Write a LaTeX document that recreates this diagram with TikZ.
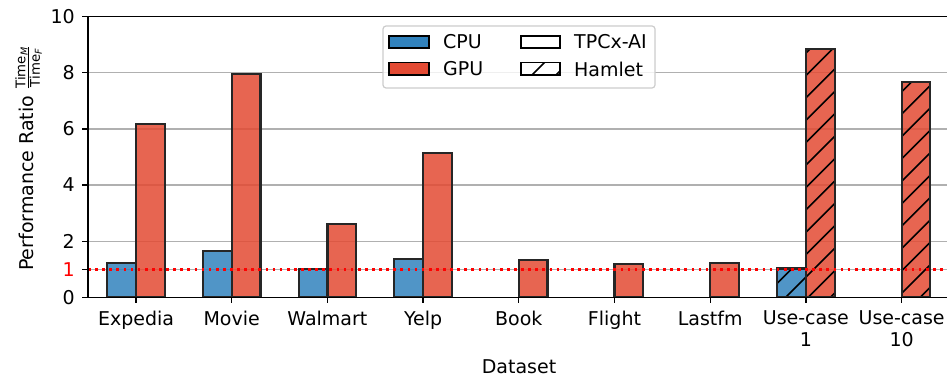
\documentclass[tikz,border=0pt]{standalone}
\usepackage{fontspec}
\setmainfont{DejaVu Sans}
\usepackage{amsmath}
\definecolor{cpublue}{HTML}{3182BD}
\definecolor{gpured}{HTML}{E34A33}
\definecolor{edgegray}{HTML}{262626}
\definecolor{gridgray}{HTML}{B0B0B0}
\definecolor{framegray}{HTML}{CCCCCC}

% diagonal "/" hatch clipped to a box given in pixel coordinates
\newcommand\hatchfill[4]{%
  \begin{scope}
    \clip (#1,#2) rectangle (#3,#4);
    \foreach \k in {20,...,60}
      \draw[hatchline] ({7.8+22.4*\k-400},400) -- ({7.8+22.4*\k},0);
  \end{scope}}

\begin{document}
\begin{tikzpicture}[x=1pt,y=-1pt,
  font=\fontsize{19}{22}\selectfont,
  baredge/.style={draw=edgegray,line width=2.2pt},
  cpufill/.style={fill=cpublue,fill opacity=0.85},
  gpufill/.style={fill=gpured,fill opacity=0.85},
  hatchline/.style={draw=black,line width=1.6pt},
  gridline/.style={draw=gridgray,line width=1.3pt},
  spine/.style={draw=black,line width=1.5pt},
  tickmark/.style={draw=black,line width=1.3pt},
  ticklab/.style={inner sep=0pt,text=black},
  refline/.style={draw=red,line width=2.7pt,dash pattern=on 2.7pt off 4.4pt},
  legframe/.style={draw=framegray,line width=1.2pt,fill=white,fill opacity=0.8,rounded corners=3pt},
  legpatch/.style={draw=black,line width=1.4pt}]
\useasboundingbox (0,0) rectangle (947,377);

% horizontal grid lines at 1, 2, 4, 6, 8
\foreach \v in {1,2,4,6,8}
  \draw[gridline] (88,{297.3-28.06*\v}) -- (947,{297.3-28.06*\v});

% bars in data coordinates: x = category index, y = ratio
\begin{scope}[shift={(136,297.3)},x=95.7pt,y=28.06pt]
  \foreach \i/\c in {0/1.23,1/1.66,2/1.02,3/1.36,7/1.03}
    \path[cpufill] (\i-0.3,0) rectangle (\i,\c);
  \foreach \i/\g in {0/6.18,1/7.96,2/2.61,3/5.14,4/1.33,5/1.19,6/1.22,7/8.85,8/7.66}
    \path[gpufill] (\i,0) rectangle (\i+0.3,\g);
\end{scope}

% hatching on the Hamlet bars
\hatchfill{777.2}{268.4}{805.9}{297.3}
\hatchfill{805.9}{49.0}{834.6}{297.3}
\hatchfill{901.6}{82.4}{930.3}{297.3}

% bar outlines
\begin{scope}[shift={(136,297.3)},x=95.7pt,y=28.06pt]
  \foreach \i/\c in {0/1.23,1/1.66,2/1.02,3/1.36,7/1.03}
    \draw[baredge] (\i-0.3,0) rectangle (\i,\c);
  \foreach \i/\g in {0/6.18,1/7.96,2/2.61,3/5.14,4/1.33,5/1.19,6/1.22,7/8.85,8/7.66}
    \draw[baredge] (\i,0) rectangle (\i+0.3,\g);
\end{scope}

% reference line at ratio 1
\coordinate (refL) at (88,269.24);
\coordinate (refR) at (947,269.24);
\draw[refline] (refL) -- (refR);

% spines
\coordinate (o) at (88,297.3);
\coordinate (tl) at (88,16.7);
\coordinate (br) at (947,297.3);
\coordinate (tr) at (947,16.7);
\draw[spine] (tl) -- (o) -- (br);
\draw[spine] (tl) -- (tr);

% y ticks and labels
\foreach \v in {0,2,4,6,8,10} {
  \draw[tickmark] (88,{297.3-28.06*\v}) -- ++(-6,0);
  \node[ticklab,anchor=east] (ytick\v) at (75,{297.3-28.06*\v}) {\v};
}
\draw[tickmark] (88,269.24) -- ++(-6,0);
\node[ticklab,anchor=east,text=red] (ytick1) at (75,269.24) {1};

% x ticks and category labels
\foreach \i/\name in {0/Expedia,1/Movie,2/Walmart,3/Yelp,4/Book,5/Flight,6/Lastfm,7/{Use-case\\1},8/{Use-case\\10}} {
  \draw[tickmark] ({136+95.7*\i},297.3) -- ++(0,6);
  \node[ticklab,anchor=north,align=center] (xtick\i) at ({136+95.7*\i},310.5) {\name};
}

% axis titles
\node[ticklab,anchor=base] (xtitle) at (519,373) {Dataset};
\node[ticklab,anchor=base,rotate=90] (ytitle) at (33,158.5)
  {Performance Ratio $\frac{\text{Time}_{\text{\itshape M}}}{\text{Time}_{\text{\itshape F}}}$};

% legend
\draw[legframe] (383,26) rectangle (655,88);
\path[legpatch,fill=cpublue] (389,36) rectangle (429,48);
\path[legpatch,fill=gpured] (389,62.7) rectangle (429,75);
\path[legpatch,fill=white] (521,36) rectangle (560,48);
\path[legpatch,fill=white] (521,62.7) rectangle (560,75);
\begin{scope}
  \clip (521,62.7) rectangle (560,75);
  \draw[hatchline] (521,86) -- (557,50);
  \draw[hatchline] (545,86) -- (581,50);
\end{scope}
\draw[legpatch] (521,62.7) rectangle (560,75);
\node[ticklab,anchor=west] (legcpu) at (443,42) {CPU};
\node[ticklab,anchor=west] (leggpu) at (443,69) {GPU};
\node[ticklab,anchor=west] (legtpc) at (574,42) {TPCx-AI};
\node[ticklab,anchor=west] (leghamlet) at (574,69) {Hamlet};
\end{tikzpicture}
\end{document}
